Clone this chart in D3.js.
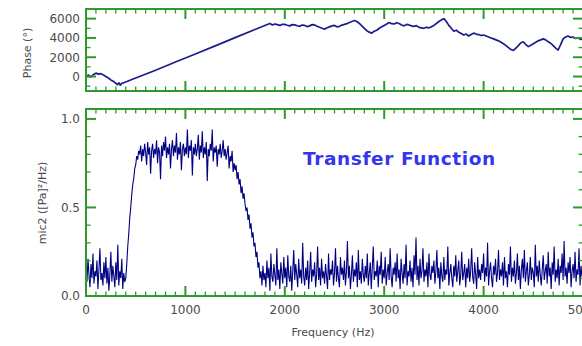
<!DOCTYPE html>
<html><head><meta charset="utf-8">
<script src="https://cdn.jsdelivr.net/npm/d3@7"></script>
<style>html,body{margin:0;padding:0;background:#fff;overflow:hidden}svg{display:block}</style>
</head><body>
<svg id="c" width="582" height="346"></svg>
<script>
// ---- data ----
const xTicks = [0, 1000, 2000, 3000, 4000, 5000];
const phaseTicks = [0, 2000, 4000, 6000];
const magTicks = [0.0, 0.5, 1.0];

const phaseFreq = [0,25,50,75,100,125,150,175,200,225,250,275,300,315,330,345,360,380,500,700,900,1100,1300,1500,1700,
 1850,1875,1900,1925,1950,1975,2000,2025,2050,2075,2100,2125,2150,2175,2200,2225,2250,2275,2300,2325,2350,2375,2400,2425,2450,2475,
 2500,2525,2550,2575,2600,2625,2650,2675,2700,2725,2750,2775,2800,2825,2850,2875,2900,2925,2950,2975,
 3000,3025,3050,3075,3100,3125,3150,3175,3200,3225,3250,3275,3300,3325,3350,3375,3400,3425,3450,3475,
 3500,3525,3550,3575,3600,3625,3650,3675,3700,3725,3750,3775,3800,3825,3850,3875,3900,3925,3950,3975,
 4000,4025,4050,4075,4100,4125,4150,4175,4200,4225,4250,4275,4300,4325,4350,4375,4400,4425,4450,4475,
 4500,4525,4550,4575,4600,4625,4650,4675,4700,4725,4750,4775,4800,4825,4850,4875,4900,4925,4950,4975,5000];
const phaseVal = [0,150,-50,200,350,250,300,150,0,-150,-350,-500,-700,-850,-650,-900,-700,-650,-150,650,1500,2340,3180,4030,4870,
 5500,5350,5450,5380,5300,5420,5400,5320,5250,5380,5350,5260,5200,5330,5300,5180,5250,5380,5350,5220,5100,5000,4900,5050,5150,5250,
 5300,5150,5200,5330,5400,5480,5600,5700,5800,5700,5500,5250,5000,4750,4600,4500,4700,4800,5000,5150,
 5300,5450,5600,5480,5450,5580,5500,5350,5250,5400,5350,5250,5200,5280,5100,5050,5000,5100,5050,5150,
 5300,5500,5700,5850,6000,5700,5300,5000,4700,4800,4600,4450,4300,4400,4200,4350,4500,4400,4350,4250,
 4300,4200,4100,4000,3900,3800,3700,3550,3400,3200,3000,2800,2700,2950,3200,3500,3600,3300,3100,3250,
 3400,3550,3700,3800,3900,3800,3600,3450,3200,2950,2750,3300,3900,4100,4200,4050,4100,3950,4000,3850,3900];

const magStartHz = 0, magStepHz = 10;
const magVal = [
 0.16,0.08,0.21,0.12,0.05,0.18,0.10,0.24,0.07,0.14,
 0.11,0.20,0.04,0.15,0.27,0.09,0.13,0.06,0.19,0.10,
 0.22,0.07,0.16,0.03,0.12,0.25,0.08,0.17,0.11,0.05,
 0.19,0.09,0.29,0.06,0.14,0.10,0.21,0.04,0.13,0.08,
 0.10,0.18,0.28,0.35,0.44,0.50,0.57,0.63,0.66,0.72,
 0.74,0.79,0.77,0.82,0.80,0.85,0.76,0.83,0.79,0.86,
 0.81,0.74,0.87,0.80,0.84,0.69,0.82,0.86,0.78,0.83,
 0.80,0.88,0.75,0.84,0.81,0.66,0.85,0.79,0.87,0.82,
 0.90,0.78,0.84,0.80,0.86,0.72,0.83,0.88,0.79,0.85,
 0.81,0.92,0.77,0.84,0.80,0.87,0.71,0.83,0.86,0.79,
 0.84,0.80,0.94,0.78,0.85,0.82,0.88,0.68,0.84,0.80,
 0.86,0.79,0.83,0.91,0.77,0.85,0.81,0.93,0.78,0.84,
 0.80,0.87,0.65,0.83,0.79,0.86,0.82,0.94,0.76,0.84,
 0.81,0.85,0.73,0.83,0.80,0.86,0.78,0.82,0.88,0.79,
 0.83,0.77,0.81,0.85,0.72,0.79,0.76,0.82,0.70,0.75,
 0.71,0.74,0.66,0.70,0.63,0.66,0.58,0.62,0.55,0.58,
 0.52,0.48,0.50,0.43,0.46,0.38,0.41,0.33,0.36,0.28,
 0.30,0.22,0.25,0.16,0.19,0.10,0.14,0.06,0.17,0.09,
 0.13,0.05,0.20,0.10,0.16,0.03,0.24,0.11,0.08,0.18,
 0.12,0.06,0.27,0.09,0.15,0.04,0.19,0.13,0.07,0.22,
 0.10,0.16,0.05,0.23,0.11,0.08,0.17,0.03,0.14,0.26,
 0.09,0.18,0.12,0.05,0.21,0.10,0.15,0.07,0.30,0.11,
 0.06,0.16,0.09,0.20,0.04,0.13,0.25,0.08,0.15,0.11,
 0.19,0.05,0.12,0.28,0.09,0.16,0.06,0.21,0.10,0.14,
 0.07,0.18,0.11,0.04,0.24,0.09,0.15,0.12,0.20,0.06,
 0.13,0.27,0.08,0.17,0.10,0.05,0.22,0.12,0.16,0.09,
 0.20,0.06,0.14,0.31,0.10,0.17,0.04,0.12,0.23,0.08,
 0.15,0.11,0.19,0.05,0.26,0.09,0.14,0.07,0.21,0.12,
 0.08,0.17,0.10,0.24,0.06,0.13,0.19,0.04,0.16,0.28,
 0.09,0.14,0.11,0.20,0.05,0.17,0.12,0.25,0.07,0.15,
 0.10,0.22,0.06,0.13,0.18,0.09,0.27,0.11,0.05,0.16,
 0.12,0.19,0.08,0.24,0.10,0.15,0.04,0.21,0.13,0.07,
 0.18,0.10,0.29,0.06,0.14,0.11,0.20,0.08,0.16,0.05,
 0.23,0.12,0.33,0.09,0.17,0.06,0.21,0.10,0.14,0.27,
 0.08,0.15,0.11,0.19,0.05,0.24,0.12,0.09,0.17,0.13,
 0.20,0.07,0.14,0.26,0.10,0.16,0.04,0.19,0.11,0.08,
 0.22,0.09,0.15,0.12,0.28,0.06,0.13,0.18,0.10,0.05,
 0.17,0.11,0.23,0.08,0.14,0.20,0.06,0.12,0.25,0.09,
 0.13,0.18,0.05,0.16,0.10,0.21,0.08,0.14,0.27,0.11,
 0.07,0.19,0.12,0.04,0.22,0.10,0.15,0.09,0.18,0.13,
 0.24,0.08,0.16,0.11,0.30,0.06,0.14,0.19,0.10,0.05,
 0.17,0.12,0.21,0.08,0.13,0.26,0.09,0.15,0.11,0.19,
 0.06,0.22,0.10,0.14,0.05,0.18,0.12,0.28,0.08,0.16,
 0.11,0.20,0.07,0.13,0.24,0.09,0.17,0.04,0.15,0.21,
 0.10,0.26,0.08,0.14,0.19,0.06,0.12,0.22,0.09,0.16,
 0.13,0.05,0.29,0.11,0.17,0.08,0.20,0.12,0.06,0.15,
 0.23,0.09,0.14,0.18,0.07,0.25,0.11,0.16,0.04,0.19,
 0.12,0.28,0.08,0.15,0.10,0.21,0.06,0.17,0.13,0.24,
 0.09,0.31,0.11,0.16,0.07,0.19,0.13,0.22,0.05,0.14,
 0.18,0.10,0.25,0.08,0.15,0.12,0.27,0.06,0.17,0.11,
 0.14];

const labels = {phase: "Phase (°)", mag: "mic2 ([Pa]²/Hz)", x: "Frequency (Hz)", title: "Transfer Function"};

// ---- drawing ----
const svg = d3.select("#c");
const green = "#2e9a2e", navy = "#000080", txt = "#4a4a4a";
const font = "DejaVu Sans, Verdana, sans-serif";
const L = 86, R = 583;
const x = d3.scaleLinear().domain([0, 5000]).range([L, R]);
const yP = d3.scaleLinear().domain([-1500, 7000]).range([91, 9]);
const yM = d3.scaleLinear().domain([0, 1.056]).range([296, 109]);

function frame(y, majorY, minorY) {
  const [b, t] = y.range();
  const g = svg.append("g");
  const minorX = d3.range(0, 5001, 100);
  minorX.forEach(v => {
    const major = v % 1000 === 0;
    const len = major ? 10 : 4.5;
    g.append("line").attr("x1", x(v)).attr("x2", x(v)).attr("y1", b).attr("y2", b - len)
      .attr("stroke", green).attr("stroke-width", major ? 2 : 1.3);
    g.append("line").attr("x1", x(v)).attr("x2", x(v)).attr("y1", t).attr("y2", t + len)
      .attr("stroke", green).attr("stroke-width", major ? 2 : 1.3);
  });
  minorY.forEach(v => {
    const major = majorY.some(m => Math.abs(m - v) < 1e-9);
    const len = major ? 10 : 4.5;
    g.append("line").attr("x1", L).attr("x2", L + len).attr("y1", y(v)).attr("y2", y(v))
      .attr("stroke", green).attr("stroke-width", major ? 2 : 1.3);
    g.append("line").attr("x1", R).attr("x2", R - len).attr("y1", y(v)).attr("y2", y(v))
      .attr("stroke", green).attr("stroke-width", major ? 2 : 1.3);
  });
  g.append("rect").attr("x", L).attr("y", t).attr("width", R - L).attr("height", b - t)
    .attr("fill", "none").attr("stroke", green).attr("stroke-width", 2);
}

svg.append("path")
  .datum(phaseFreq.map((f, i) => [f, phaseVal[i]]))
  .attr("fill", "none").attr("stroke", "#1c1c90").attr("stroke-width", 1.7)
  .attr("stroke-linejoin", "round")
  .attr("d", d3.line().x(d => x(d[0])).y(d => yP(d[1])));

svg.append("path")
  .datum(magVal.map((v, i) => [magStartHz + i * magStepHz, v]))
  .attr("fill", "none").attr("stroke", navy).attr("stroke-width", 1.1)
  .attr("d", d3.line().x(d => x(d[0])).y(d => yM(d[1])));

frame(yP, phaseTicks, d3.range(-1000, 7001, 1000));
frame(yM, magTicks, d3.range(0, 11).map(i => i / 10));

const tl = svg.append("g").attr("font-family", font).attr("font-size", 12).attr("fill", txt);
phaseTicks.forEach(v => tl.append("text").attr("x", 80).attr("y", yP(v)).attr("dy", "0.36em")
  .attr("text-anchor", "end").text(d3.format("d")(v)));
magTicks.forEach(v => tl.append("text").attr("x", 80).attr("y", yM(v)).attr("dy", "0.36em")
  .attr("text-anchor", "end").text(d3.format(".1f")(v)));
xTicks.forEach(v => tl.append("text").attr("x", x(v)).attr("y", 314)
  .attr("text-anchor", "middle").text(d3.format("d")(v)));

svg.append("text").attr("transform", "translate(31,53) rotate(-90)")
  .attr("text-anchor", "middle").attr("font-family", font).attr("font-size", 11).attr("fill", txt)
  .text(labels.phase);
svg.append("text").attr("transform", "translate(46,203) rotate(-90)")
  .attr("text-anchor", "middle").attr("font-family", font).attr("font-size", 11).attr("fill", txt)
  .text(labels.mag);
svg.append("text").attr("x", 333).attr("y", 336)
  .attr("text-anchor", "middle").attr("font-family", font).attr("font-size", 11).attr("fill", txt)
  .text(labels.x);

svg.append("text").attr("x", 303).attr("y", 165)
  .attr("font-family", font).attr("font-size", 18.5).attr("font-weight", "bold")
  .attr("letter-spacing", 0.6).attr("fill", "#3535ee")
  .text(labels.title);
</script>
</body></html>
